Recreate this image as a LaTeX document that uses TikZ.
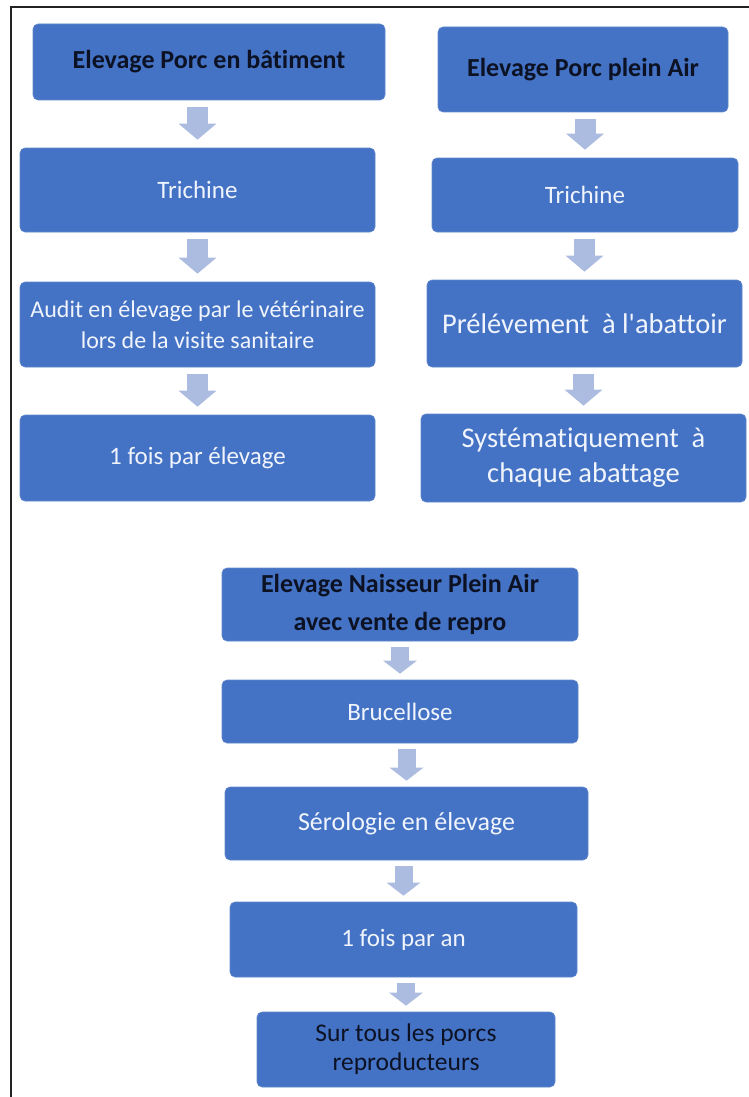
\documentclass[tikz,border=0pt]{standalone}
\usepackage{fontspec}
\setmainfont{Carlito}[Ligatures=NoCommon]
\usetikzlibrary{arrows.meta,calc}
\definecolor{boxblue}{RGB}{68,114,196}
\definecolor{arrowblue}{RGB}{172,188,224}
\definecolor{titletext}{RGB}{12,18,36}
\definecolor{boxtext}{RGB}{240,244,252}
\definecolor{frameline}{RGB}{35,35,35}
\begin{document}
\begin{tikzpicture}[x=1pt,y=-1pt,
  box/.style={fill=boxblue, draw=boxblue!85!white, line width=0.6pt, rounded corners=5pt, align=center, inner sep=0pt, text=boxtext, font=\fontsize{25}{31}\selectfont},
  ttl/.style={box, text=titletext, font=\fontsize{26}{38}\selectfont\bfseries},
  big/.style={box, font=\fontsize{28.5}{35}\selectfont},
  dark/.style={box, text=titletext, font=\fontsize{25.5}{29}\selectfont},
  blk/.style={draw=arrowblue, line width=21pt, -{Triangle[width=37pt,length=16pt]}},
  blks/.style={draw=arrowblue, line width=18pt, -{Triangle[width=33pt,length=13pt]}},
]
\useasboundingbox (0,0) rectangle (749,1097);
\draw[frameline, line width=1.3pt] (11,1097) -- (11,7) -- (749,7);

% left column
\node[ttl, minimum width=352pt, minimum height=76pt] (L1) at (209,62) {Elevage Porc en bâtiment};
\node[box, minimum width=355pt, minimum height=84pt] (L2) at (197.5,190) {Trichine};
\node[box, minimum width=355pt, minimum height=85pt, font=\fontsize{24}{31}\selectfont] (L3) at (197.5,324.5) {Audit en élevage par le vétérinaire\\lors de la visite sanitaire};
\node[box, minimum width=355pt, minimum height=86pt] (L4) at (197.5,458) {1 fois par élevage};

% right column
\node[ttl, minimum width=290pt, minimum height=85pt] (R1) at (583,69.5) {Elevage Porc plein Air};
\node[box, minimum width=306pt, minimum height=74pt] (R2) at (585,195) {Trichine};
\node[big, minimum width=315pt, minimum height=87pt] (R3) at (584.5,323.5) {Prélévement \ à l\textquotesingle abattoir};
\node[big, minimum width=325pt, minimum height=88pt] (R4) at (583.5,458) {Systématiquement \ à\\chaque abattage};

% bottom column
\node[ttl, minimum width=356pt, minimum height=73pt] (B1) at (400,604.5) {Elevage Naisseur Plein Air\\avec vente de repro};
\node[box, minimum width=356pt, minimum height=63pt] (B2) at (400,711.5) {Brucellose};
\node[box, minimum width=363pt, minimum height=73pt, font=\fontsize{26}{31}\selectfont] (B3) at (406.5,823.5) {Sérologie en élevage};
\node[box, minimum width=347pt, minimum height=75pt] (B4) at (403.5,939.5) {1 fois par an};
\node[dark, minimum width=298pt, minimum height=75pt] (B5) at (406,1049.5) {Sur tous les porcs\\reproducteurs};

% arrows
\foreach \a/\b in {L1/L2,L2/L3,L3/L4,R1/R2,R2/R3,R3/R4}
  \draw[blk] ($(\a.south -| \b.north)+(0,7)$) -- ($(\b.north)+(0,-8)$);
\foreach \a/\b in {B1/B2,B2/B3,B3/B4,B4/B5}
  \draw[blks] ($(\a.south -| \b.north)+(0,6)$) -- ($(\b.north)+(0,-6)$);
\end{tikzpicture}
\end{document}
